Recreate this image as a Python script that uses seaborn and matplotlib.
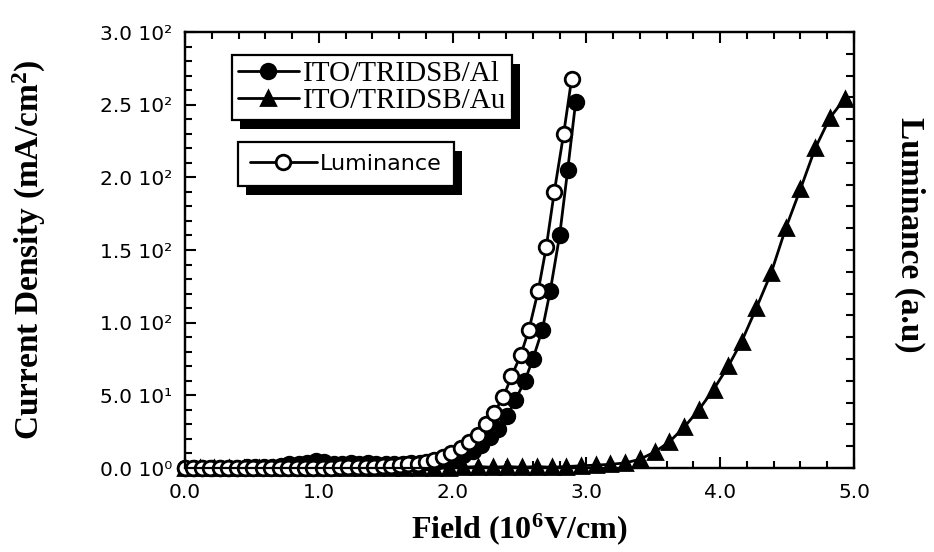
import matplotlib
matplotlib.use('Agg')
import matplotlib.pyplot as plt
from matplotlib.ticker import MultipleLocator
from matplotlib.patches import Rectangle
from matplotlib.font_manager import FontProperties
import seaborn as sns

# Data
field_al = [0.00, 0.07, 0.13, 0.20, 0.26, 0.33, 0.39, 0.46, 0.52, 0.59, 0.65, 0.72,
            0.78, 0.85, 0.91, 0.98, 1.04, 1.11, 1.17, 1.24, 1.30, 1.37, 1.43, 1.50,
            1.56, 1.63, 1.69, 1.76, 1.82, 1.89, 1.95, 2.02, 2.08, 2.15, 2.21, 2.28,
            2.34, 2.41, 2.47, 2.54, 2.60, 2.67, 2.73, 2.80, 2.86, 2.92]
j_al = [0, 0, 0, 0, 0, 0.3, 0.3, 0.5, 0.5, 0.5, 1, 1.5,
        2.5, 3, 3.5, 4.5, 4, 3, 3, 3.5, 3, 3.5, 3, 3,
        3, 3, 3.5, 3.5, 4, 4.5, 5.5, 7, 9, 12, 16, 21,
        27, 36, 47, 60, 75, 95, 122, 160, 205, 252]

field_au = [0.00, 0.11, 0.22, 0.33, 0.44, 0.55, 0.66, 0.77, 0.88, 0.99, 1.10, 1.21,
            1.32, 1.43, 1.54, 1.64, 1.75, 1.86, 1.97, 2.08, 2.19, 2.30, 2.41, 2.52,
            2.63, 2.74, 2.85, 2.96, 3.07, 3.18, 3.29, 3.40, 3.51, 3.62, 3.73, 3.84,
            3.95, 4.06, 4.16, 4.27, 4.38, 4.49, 4.60, 4.71, 4.82, 4.93]
j_au = [0, 0, 0, 0, 0, 0, 0, 0, 0, 0, 0, 0,
        0, 0, 0, 0, 0, 0, 0, 0.5, 1, 0.5, 1, 0.5,
        1, 0.5, 1, 1.5, 2, 2.5, 3.5, 6, 11, 18, 28, 40,
        54, 70, 87, 110, 134, 165, 192, 220, 241, 254]

field_lum = [0.00, 0.06, 0.13, 0.19, 0.26, 0.32, 0.39, 0.45, 0.51, 0.58, 0.64, 0.71,
             0.77, 0.84, 0.90, 0.96, 1.03, 1.09, 1.16, 1.22, 1.29, 1.35, 1.41, 1.48,
             1.54, 1.61, 1.67, 1.74, 1.80, 1.86, 1.93, 1.99, 2.06, 2.12, 2.19, 2.25,
             2.31, 2.38, 2.44, 2.51, 2.57, 2.64, 2.70, 2.76, 2.83, 2.89]
lum = [0, 0, 0, 0, 0, 0, 0, 0, 0, 0, 0, 0,
       0, 0, 0, 0, 0.3, 0.3, 0.5, 0.5, 0.8, 1, 1, 1.2,
       1.5, 2, 2.5, 3, 4, 5.5, 7.5, 10, 13.5, 18, 23, 30,
       38, 49, 63, 78, 95, 122, 152, 190, 230, 268]

x_ticks = [0, 1, 2, 3, 4, 5]
x_labels = ['0.0', '1.0', '2.0', '3.0', '4.0', '5.0']
y_ticks = [0, 50, 100, 150, 200, 250, 300]
y_labels = ['0.0 10⁰', '5.0 10¹', '1.0 10²', '1.5 10²', '2.0 10²', '2.5 10²', '3.0 10²']

sns.set_style('ticks')
plt.rcParams['font.family'] = ['DejaVu Sans']
plt.rcParams['text.color'] = 'black'
plt.rcParams['axes.labelcolor'] = 'black'
plt.rcParams['xtick.color'] = 'black'
plt.rcParams['ytick.color'] = 'black'
plt.rcParams['mathtext.fontset'] = 'custom'
plt.rcParams['mathtext.rm'] = 'Liberation Serif:bold'
plt.rcParams['mathtext.it'] = 'Liberation Serif:bold'
plt.rcParams['mathtext.bf'] = 'Liberation Serif:bold'

fig, ax = plt.subplots(figsize=(9.34, 5.52), dpi=100)
fig.subplots_adjust(left=185/934, right=854/934, bottom=84/552, top=520/552)

common = dict(color='black', linewidth=2.0, markeredgecolor='black',
              markeredgewidth=2.0, clip_on=False)
sns.lineplot(x=field_al, y=j_al, ax=ax, marker='o', markersize=10.5,
             markerfacecolor='black', **common)
sns.lineplot(x=field_au, y=j_au, ax=ax, marker='^', markersize=10.5,
             markerfacecolor='black', **common)
ax.set_xlim(0, 5)
ax.set_ylim(0, 300)

ax2 = ax.twinx()
sns.lineplot(x=field_lum, y=lum, ax=ax2, marker='o', markersize=10.5,
             markerfacecolor='white', **common)
ax2.set_ylim(0, 300)

# ticks
ax.set_xticks(x_ticks)
ax.set_xticklabels(x_labels)
ax.set_yticks(y_ticks)
ax.set_yticklabels(y_labels)
ax.xaxis.set_minor_locator(MultipleLocator(0.2))
ax.yaxis.set_minor_locator(MultipleLocator(10))
ax.tick_params(axis='x', which='both', direction='in', top=True, bottom=True,
               width=1.5, labelsize=14.5, pad=11)
ax.tick_params(axis='y', which='both', direction='in', left=True, right=False,
               width=1.5, labelsize=14.5, pad=9)
ax.tick_params(which='major', length=8)
ax.tick_params(which='minor', length=5)
ax2.yaxis.set_major_locator(MultipleLocator(15))
ax2.tick_params(axis='y', which='major', direction='in', right=True, length=6,
                width=1.5, labelright=False)
ax2.set_ylabel('')
ax.set_ylabel('')
for a in (ax, ax2):
    for s in a.spines.values():
        s.set_linewidth(1.6)
        s.set_color('black')

# axis labels
ax.set_xlabel('Field (10$^6$V/cm)', fontfamily='Liberation Serif',
              fontweight='bold', fontsize=23)
ax.xaxis.set_label_coords(0.5, -0.10)
ax.set_ylabel('Current Density (mA/cm$^2$)', fontfamily='Liberation Serif',
              fontweight='bold', fontsize=24)
ax.yaxis.set_label_coords(-0.205, 0.5)
fig.text(910/934, 1 - 235/552, 'Luminance (a.u)', rotation=-90,
         ha='center', va='center', fontfamily='Liberation Serif',
         fontweight='bold', fontsize=24)

# legends with solid drop shadows
h_al, h_au = ax.lines[0], ax.lines[1]
h_lum = ax2.lines[0]
leg_kw = dict(loc='upper left', borderaxespad=0, frameon=True, fancybox=False,
              framealpha=1, edgecolor='black', handletextpad=0.15)
leg1 = ax2.legend([h_al, h_au], ['ITO/TRIDSB/Al', 'ITO/TRIDSB/Au'],
                  bbox_to_anchor=(0.070, 0.947), handlelength=2.1,
                  labelspacing=0.02, borderpad=0.2,
                  prop=FontProperties(family='Liberation Serif', size=21), **leg_kw)
leg1.get_frame().set_linewidth(1.6)
ax2.add_artist(leg1)
leg2 = ax2.legend([h_lum], ['Luminance'], bbox_to_anchor=(0.079, 0.748),
                  handlelength=3.0, borderpad=0.55,
                  prop=FontProperties(family='DejaVu Sans', size=16), **leg_kw)
leg2.get_frame().set_linewidth(1.6)

fig.canvas.draw()
renderer = fig.canvas.get_renderer()
for leg in (leg1, leg2):
    bb = leg.get_window_extent(renderer).transformed(ax2.transAxes.inverted())
    ax2.add_patch(Rectangle((bb.x0 + 8/669, bb.y0 - 9/436), bb.width, bb.height,
                            transform=ax2.transAxes, facecolor='black',
                            edgecolor='none', zorder=4, clip_on=False))

fig.savefig('out.png', dpi=100)
